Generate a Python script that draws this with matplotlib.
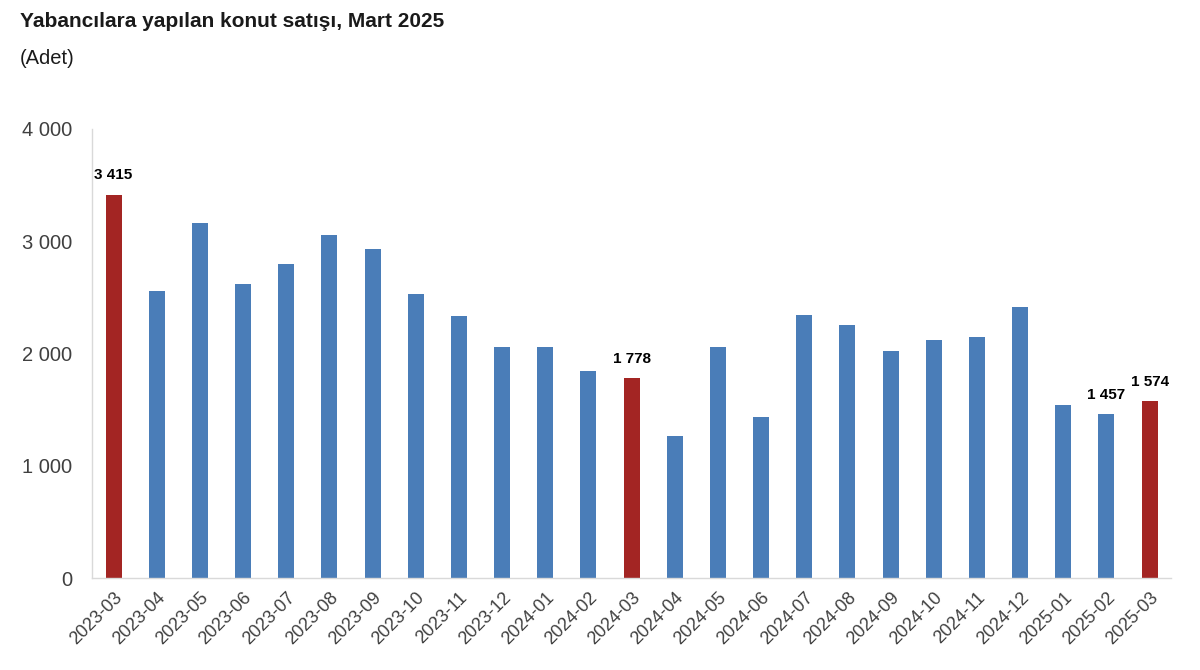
import matplotlib.pyplot as plt
from matplotlib.ticker import FuncFormatter

months = ["2023-03", "2023-04", "2023-05", "2023-06", "2023-07", "2023-08", "2023-09",
          "2023-10", "2023-11", "2023-12", "2024-01", "2024-02", "2024-03", "2024-04",
          "2024-05", "2024-06", "2024-07", "2024-08", "2024-09", "2024-10", "2024-11",
          "2024-12", "2025-01", "2025-02", "2025-03"]
sales = [3415, 2557, 3163, 2619, 2797, 3056, 2931, 2530, 2334, 2058, 2058, 1844, 1778,
         1265, 2058, 1434, 2343, 2254, 2022, 2120, 2147, 2414, 1541, 1457, 1574]
# march bars in red, and which bars get a value label
highlight = ["2023-03", "2024-03", "2025-03"]
labelled = ["2023-03", "2024-03", "2025-02", "2025-03"]

plt.rcParams['font.family'] = ['Liberation Sans', 'DejaVu Sans']

fig = plt.figure(figsize=(12, 6.7), dpi=100)
ax = fig.add_axes([0.0767, 0.1373, 0.8993, 0.6702])

colors = ['#a32523' if m in highlight else '#4a7db8' for m in months]
x = range(len(months))
ax.bar(x, sales, width=0.37, color=colors)

for i, (m, v) in enumerate(zip(months, sales)):
    if m in labelled:
        ax.text(i, v + 110, f"{v:,}".replace(",", " "), ha='center', va='bottom',
                fontsize=11, fontweight='bold', color='black')

ax.set_xlim(-0.5, len(months) - 0.5)
ax.set_ylim(0, 4000)
ax.set_yticks([0, 1000, 2000, 3000, 4000])
ax.yaxis.set_major_formatter(FuncFormatter(lambda v, p: f"{int(v):,}".replace(",", " ")))
ax.set_xticks(list(x))
ax.set_xticklabels(months, rotation=45, ha='right', rotation_mode='anchor')

for s in ['top', 'right']:
    ax.spines[s].set_visible(False)
for s in ['left', 'bottom']:
    ax.spines[s].set_color('#d9d9d9')
    ax.spines[s].set_linewidth(1)
ax.tick_params(axis='both', length=0, colors='#404040')
ax.tick_params(axis='x', labelsize=13, pad=8)
ax.tick_params(axis='y', labelsize=14.5, pad=14)

fig.text(0.0167, 0.968, "Yabancılara yapılan konut satışı, Mart 2025", fontsize=15,
         fontweight='bold', color='#1a1a1a', va='center')
fig.text(0.0167, 0.913, "(Adet)", fontsize=14.5, color='#1a1a1a', va='center')

fig.savefig('out.png', dpi=100, facecolor='white')
